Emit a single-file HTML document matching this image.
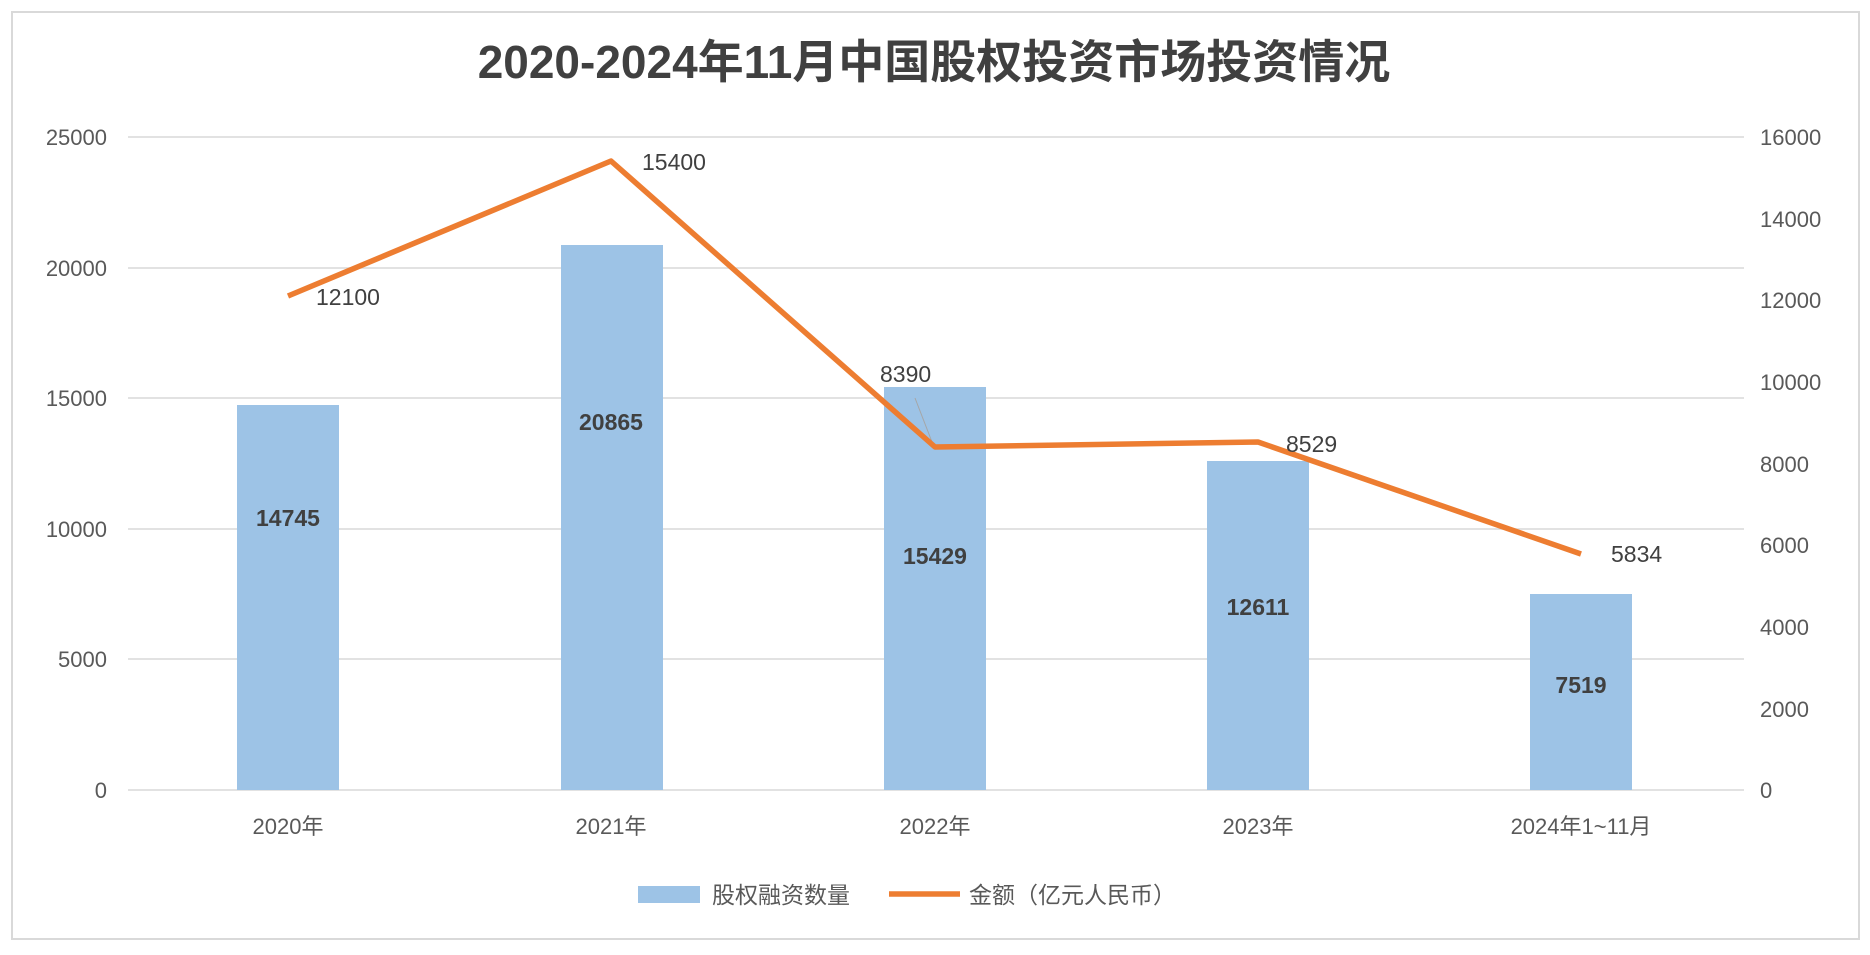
<!DOCTYPE html>
<html><head><meta charset="utf-8"><style>
html,body{margin:0;padding:0;background:#fff;}
svg text{font-family:"Liberation Sans","Noto Sans CJK SC",sans-serif;}
</style></head><body>
<svg width="1870" height="950" viewBox="0 0 1870 950" xmlns="http://www.w3.org/2000/svg">
<rect x="12" y="12" width="1847" height="927" fill="#fff" stroke="#d9d9d9" stroke-width="2"/>
<text x="934" y="78" text-anchor="middle" font-size="46" font-weight="bold" fill="#404040">2020-2024年11月中国股权投资市场投资情况</text>
<g stroke="#d9d9d9" stroke-width="1.5">
<line x1="128" y1="137" x2="1744" y2="137"/>
<line x1="128" y1="268" x2="1744" y2="268"/>
<line x1="128" y1="398" x2="1744" y2="398"/>
<line x1="128" y1="529" x2="1744" y2="529"/>
<line x1="128" y1="659" x2="1744" y2="659"/>
<line x1="128" y1="790" x2="1744" y2="790"/>
</g>
<g font-size="22" fill="#595959" text-anchor="end">
<text x="107" y="145">25000</text><text x="107" y="276">20000</text><text x="107" y="406">15000</text>
<text x="107" y="537">10000</text><text x="107" y="667">5000</text><text x="107" y="798">0</text>
</g>
<g font-size="22" fill="#595959">
<text x="1760" y="145">16000</text><text x="1760" y="227">14000</text><text x="1760" y="308">12000</text>
<text x="1760" y="390">10000</text><text x="1760" y="472">8000</text><text x="1760" y="553">6000</text>
<text x="1760" y="635">4000</text><text x="1760" y="717">2000</text><text x="1760" y="798">0</text>
</g>
<g fill="#9dc3e6">
<rect x="237" y="405" width="102" height="385"/>
<rect x="561" y="245" width="102" height="545"/>
<rect x="884" y="387" width="102" height="403"/>
<rect x="1207" y="461" width="102" height="329"/>
<rect x="1530" y="594" width="102" height="196"/>
</g>
<g font-size="23" font-weight="bold" fill="#404040" text-anchor="middle">
<text x="288" y="526">14745</text><text x="611" y="430">20865</text><text x="935" y="564">15429</text>
<text x="1258" y="615">12611</text><text x="1581" y="693">7519</text>
</g>
<line x1="915" y1="398" x2="932" y2="442" stroke="#a6a6a6" stroke-width="1"/>
<polyline points="288,296 611,161 935,447 1258,442 1581,554" fill="none" stroke="#ed7d31" stroke-width="5.5" stroke-linejoin="round"/>
<g font-size="23" fill="#404040">
<text x="316" y="305">12100</text><text x="642" y="170">15400</text><text x="880" y="382">8390</text>
<text x="1286" y="452">8529</text><text x="1611" y="562">5834</text>
</g>
<g font-size="22" fill="#595959" text-anchor="middle">
<text x="288" y="834">2020年</text><text x="611" y="834">2021年</text><text x="935" y="834">2022年</text>
<text x="1258" y="834">2023年</text><text x="1581" y="834">2024年1~11月</text>
</g>
<rect x="638" y="886" width="62" height="17" fill="#9dc3e6"/>
<text x="712" y="903" font-size="23" fill="#595959">股权融资数量</text>
<line x1="889" y1="894" x2="960" y2="894" stroke="#ed7d31" stroke-width="5.5"/>
<text x="969" y="903" font-size="23" fill="#595959">金额（亿元人民币）</text>
</svg>
</body></html>
